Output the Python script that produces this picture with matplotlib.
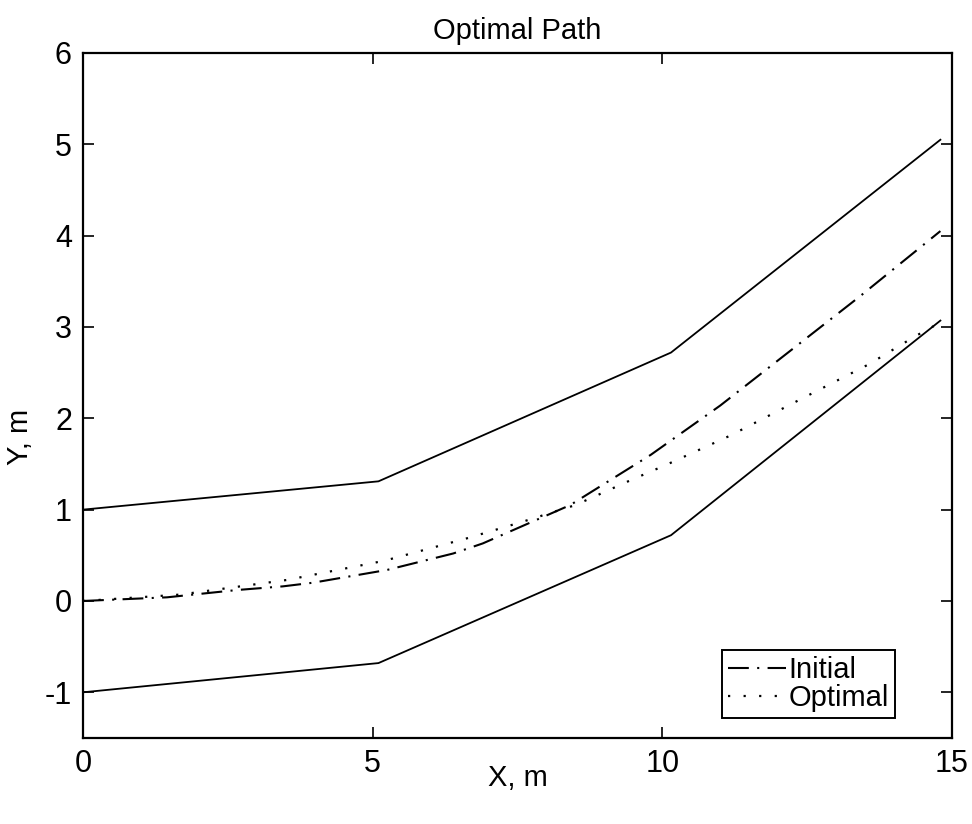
import numpy as np
import matplotlib
matplotlib.use('Agg')
import matplotlib.pyplot as plt

plt.rcParams['font.family'] = ['Liberation Sans', 'DejaVu Sans']
plt.rcParams['axes.unicode_minus'] = False

# corridor edges (upper and lower walls)
wall_x = [0.0, 5.1, 10.15, 14.8]
upper_y = [1.0, 1.31, 2.72, 5.05]
lower_y = [-1.0, -0.68, 0.72, 3.07]

# initial guess path
init_x = [0.0, 1.45, 2.66, 3.45, 3.97, 5.25, 6.39, 6.9, 8.41, 9.8, 11.0, 12.17, 13.42, 14.8]
init_y = [0.0, 0.04, 0.12, 0.16, 0.20, 0.34, 0.52, 0.63, 1.05, 1.60, 2.14, 2.72, 3.34, 4.05]

# optimised path
opt_x = [0.0, 1.68, 3.52, 5.2, 6.65, 7.6, 8.5, 9.41, 10.1, 11.17, 12.33, 13.56, 14.37, 14.8]
opt_y = [0.0, 0.07, 0.23, 0.44, 0.69, 0.87, 1.05, 1.31, 1.50, 1.81, 2.19, 2.59, 2.90, 3.05]

fig = plt.figure(figsize=(9.72, 8.24), dpi=100)
ax = fig.add_axes([0.0854, 0.1044, 0.8940, 0.8313])

ax.plot(wall_x, upper_y, color='k', lw=1.3)
ax.plot(wall_x, lower_y, color='k', lw=1.3)
ax.plot(init_x, init_y, color='k', lw=1.5, linestyle=(0, (10, 4, 1, 4)), label='Initial')
ax.plot(opt_x, opt_y, color='k', lw=1.6, linestyle=(0, (1, 6)), label='Optimal')

ax.set_xlim(0, 15)
ax.set_ylim(-1.5, 6)
ax.set_xticks([0, 5, 10, 15])
ax.set_yticks([-1, 0, 1, 2, 3, 4, 5, 6])
ax.tick_params(direction='in', length=8, width=1.2, labelsize=22,
               top=True, right=True, pad=8)
for s in ax.spines.values():
    s.set_linewidth(1.6)

ax.set_title('Optimal Path', fontsize=21, pad=10)
ax.set_xlabel('X, m', fontsize=21)
ax.set_ylabel('Y, m', fontsize=21)
ax.xaxis.set_label_coords(0.5, -0.038)
ax.yaxis.set_label_coords(-0.056, 0.44)

leg = ax.legend(loc='lower left', bbox_to_anchor=(0.735, 0.029), borderaxespad=0,
                fontsize=21, fancybox=False, framealpha=1, edgecolor='k',
                handlelength=2.0, handletextpad=0.1, labelspacing=0.0,
                borderpad=0.2)
leg.get_frame().set_linewidth(1.4)

fig.savefig('out.png', dpi=100)
